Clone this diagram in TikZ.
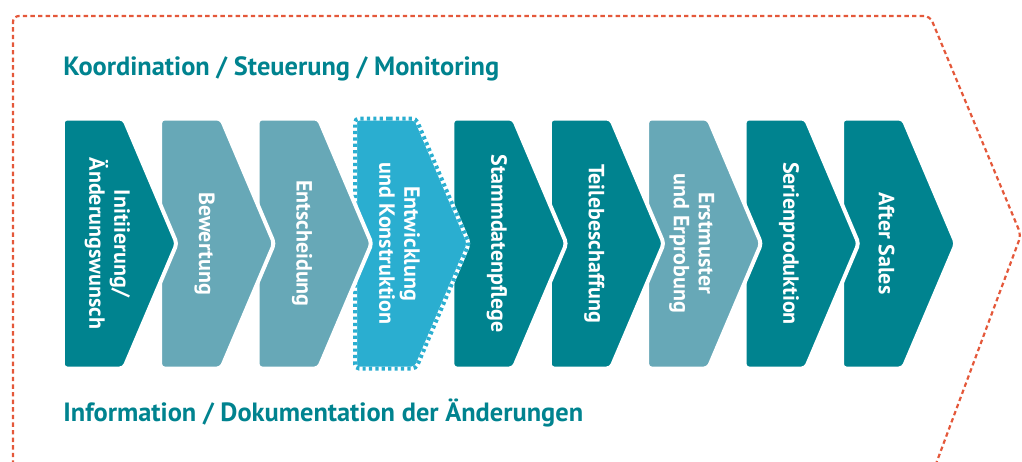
\documentclass[tikz,border=0pt]{standalone}
\usepackage{fontspec}
\setmainfont{PT Sans}
\usepackage{tikz}
\usetikzlibrary{shapes,shapes.symbols,positioning}

\definecolor{tealdark}{HTML}{00838F}
\definecolor{teallight}{HTML}{67A8B7}
\definecolor{tealbright}{HTML}{2AAED0}
\definecolor{frameorange}{HTML}{E4583A}

\begin{document}
\begin{tikzpicture}[x=0.5pt,y=-0.5pt,
node distance=48.7pt, font=\bfseries]

\tikzstyle{chevron}=[signal, signal to=east, signal pointer angle=134,
minimum width=57pt, minimum height=125pt, inner sep=0pt,
draw=white, line width=2pt, rounded corners=2pt, fill=tealdark]

\tikzstyle{chevtext}=[rotate=-90, text=white, align=center, inner sep=0pt,
font=\fontsize{11}{12.5}\selectfont\bfseries]

\tikzstyle{heading}=[anchor=base west, text=tealdark, inner sep=0pt,
font=\fontsize{13.2}{15}\selectfont\bfseries]

\clip (0,0) rectangle (1022,461);

%frame
\draw[frameorange, line width=1.1pt, dash pattern=on 2.2pt off 1.6pt, rounded corners=3pt]
(13,480) -- (13,16) -- (930,16) -- (1021,235) -- (930,480);

%headings
\node[heading] (koord) at (63,75) {Koordination / Steuerung / Monitoring};
\node[heading] (info) at (63,421) {Information / Dokumentation der Änderungen};

%chevrons, last one first
\node[chevron] (c9) at (872.5,243.5) {};
\node[chevron] (c8) [left of=c9] {};
\node[chevron, fill=teallight] (c7) [left of=c8] {};
\node[chevron] (c6) [left of=c7] {};
\node[chevron] (c5) [left of=c6] {};
\node[chevron, fill=tealbright,
postaction={draw=tealbright, dash pattern=on 1.6pt off 1.6pt}] (c4) [left of=c5] {};
\node[chevron, fill=teallight] (c3) [left of=c4] {};
\node[chevron, fill=teallight] (c2) [left of=c3] {};
\node[chevron] (c1) [left of=c2] {};

%labels
\node[chevtext] (t1) at ([xshift=7pt]c1.center) {Initiierung/\\Änderungswunsch};
\node[chevtext] (t2) at ([xshift=7pt]c2.center) {Bewertung};
\node[chevtext] (t3) at ([xshift=7pt]c3.center) {Entscheidung};
\node[chevtext] (t4) at ([xshift=7pt]c4.center) {Entwicklung\\und Konstruktion};
\node[chevtext] (t5) at ([xshift=7pt]c5.center) {Stammdatenpflege};
\node[chevtext] (t6) at ([xshift=7pt]c6.center) {Teilebeschaffung};
\node[chevtext] (t7) at ([xshift=7pt]c7.center) {Erstmuster\\und Erprobung};
\node[chevtext] (t8) at ([xshift=7pt]c8.center) {Serienproduktion};
\node[chevtext] (t9) at ([xshift=7pt]c9.center) {After Sales};

\end{tikzpicture}
\end{document}
